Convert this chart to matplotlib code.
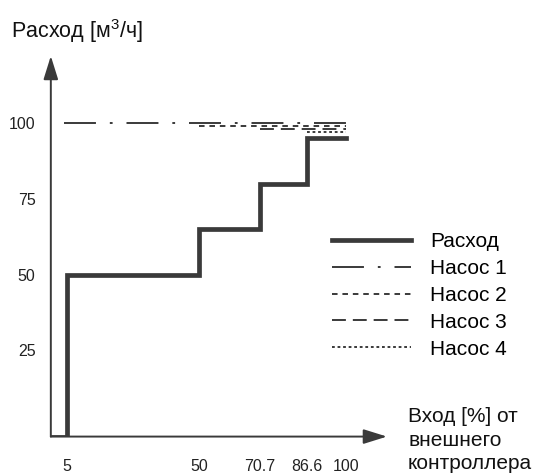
import matplotlib
matplotlib.use('Agg')
import matplotlib.pyplot as plt

plt.rcParams['font.family'] = ['Liberation Sans', 'DejaVu Sans']
plt.rcParams['mathtext.fontset'] = 'custom'
plt.rcParams['mathtext.rm'] = 'Liberation Sans'
plt.rcParams['lines.scale_dashes'] = False

# Данные: ступенчатая характеристика расхода и работа насосов
flow_x = [0, 5, 5, 50, 50, 70.7, 70.7, 86.6, 86.6, 100]
flow_y = [-3.5, -3.5, 50, 50, 65, 65, 80, 80, 95, 95]

pump1_x = [4, 100]
pump1_y = [100, 100]
pump2_x = [50, 100]
pump2_y = [99, 99]
pump3_x = [70.7, 100]
pump3_y = [98, 98]
pump4_x = [86.6, 100]
pump4_y = [97, 97]

x_ticks = [5, 50, 70.7, 86.6, 100]
x_tick_labels = ['5', '50', '70.7', '86.6', '100']
y_ticks = [25, 50, 75, 100]

dark = '#3a3a3a'

fig = plt.figure(figsize=(5.43, 4.73), dpi=100)
ax = fig.add_axes([0.0936, 0.077, 0.619, 0.8006])
ax.set_xlim(-0.5, 114)
ax.set_ylim(-3.5, 121.5)

ax.plot(flow_x, flow_y, color=dark, lw=3.4, solid_joinstyle='miter', label='Расход', zorder=3)
ax.plot(pump1_x, pump1_y, color=dark, lw=1.4, dashes=(23, 10, 2, 10), label='Насос 1')
ax.plot(pump2_x, pump2_y, color=dark, lw=1.4, dashes=(4, 3.5), label='Насос 2')
ax.plot(pump3_x, pump3_y, color=dark, lw=1.4, dashes=(10, 5), label='Насос 3')
ax.plot(pump4_x, pump4_y, color=dark, lw=1.4, dashes=(2, 2), label='Насос 4')

# оси со стрелками
for s in ax.spines.values():
    s.set_visible(False)
arrow = dict(arrowstyle='-|>,head_length=0.8,head_width=0.25', mutation_scale=18,
             color=dark, lw=1.4, shrinkA=0, shrinkB=0)
ax.annotate('', xy=(1, 0), xytext=(0, 0), xycoords='axes fraction', arrowprops=arrow)
ax.annotate('', xy=(0, 1.005), xytext=(0, 0), xycoords='axes fraction', arrowprops=arrow)

ax.set_xticks(x_ticks)
ax.set_xticklabels(x_tick_labels)
ax.set_yticks(y_ticks)
ax.tick_params(length=0, labelsize=11.5, colors='#222222')
ax.tick_params(axis='x', pad=16)
ax.tick_params(axis='y', pad=11)

fig.text(11 / 543, 1 - 31 / 473, 'Расход [м$^3$/ч]', fontsize=15.5, va='center', ha='left', color='#111111')
fig.text(408 / 543, 1 - 440 / 473, 'Вход [%] от\nвнешнего\nконтроллера', fontsize=15,
         va='center', ha='left', linespacing=1.28, color='#111111')

ax.legend(loc='upper left', bbox_to_anchor=(332 / 543, 1 - 232 / 473),
          bbox_transform=fig.transFigure, frameon=False, fontsize=15,
          handlelength=3.8, handletextpad=0.9, labelspacing=0.38,
          borderpad=0, borderaxespad=0)

fig.savefig('out.png', dpi=100)
